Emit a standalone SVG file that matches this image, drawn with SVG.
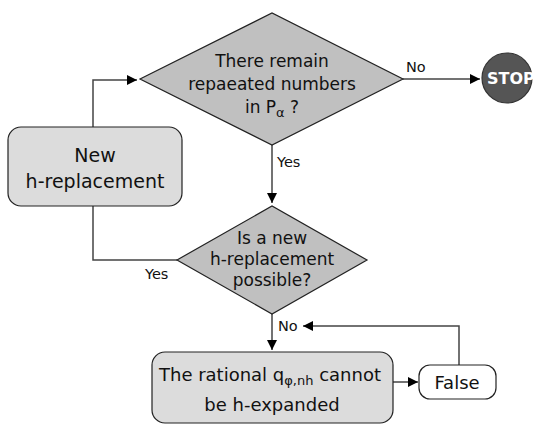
<svg xmlns="http://www.w3.org/2000/svg" width="534" height="424" viewBox="0 0 534 424">
<style>
  text { font-family: "DejaVu Sans", Verdana, sans-serif; fill: #111; }
  .dia { fill: #c0c0c0; stroke: #222; stroke-width: 1.2; }
  .box { fill: #dcdcdc; stroke: #222; stroke-width: 1.2; }
  .wbox { fill: #fff; stroke: #222; stroke-width: 1.2; }
  .conn { fill: none; stroke: #444; stroke-width: 1.5; }
  .lbl { font-size: 14.5px; }
  .t17 { font-size: 17px; text-anchor: middle; }
  .t18 { font-size: 18px; text-anchor: middle; }
  .t19 { font-size: 19px; text-anchor: middle; }
</style>
<defs>
  <marker id="arr" viewBox="0 0 10 10" refX="10" refY="5" markerWidth="10" markerHeight="10" markerUnits="userSpaceOnUse" orient="auto">
    <path d="M0,0 L10,5 L0,10 z" fill="#000"/>
  </marker>
</defs>

<g id="connectors">
  <path class="conn" d="M93,127 V80 H137" marker-end="url(#arr)"/>
  <path class="conn" d="M403,79 H480" marker-end="url(#arr)"/>
  <path class="conn" d="M272,145 V203" marker-end="url(#arr)"/>
  <path class="conn" d="M93,206 V260 H177"/>
  <path class="conn" d="M272,314 V350" marker-end="url(#arr)"/>
  <path class="conn" d="M393,382 H418" marker-end="url(#arr)"/>
  <path class="conn" d="M459,365 V326 H303" marker-end="url(#arr)"/>
  <text class="lbl" x="406" y="72">No</text>
  <text class="lbl" x="277" y="167">Yes</text>
  <text class="lbl" x="145" y="279">Yes</text>
  <text class="lbl" x="278" y="331">No</text>
</g>

<g id="decision1">
  <polygon class="dia" points="140,79 272,13 403,79 272,145"/>
  <text class="t17" x="272" y="67">There remain</text>
  <text class="t17" x="272" y="90">repaeated numbers</text>
  <text class="t17" x="272" y="113">in P<tspan font-size="13" dy="4">α</tspan><tspan dy="-4"> ?</tspan></text>
</g>

<g id="stop">
  <circle cx="507" cy="78" r="25" fill="#555" stroke="#333" stroke-width="1.2"/>
  <text x="487" y="84" font-size="16" font-weight="bold" style="fill:#fff">STOP</text>
</g>

<g id="newrep">
  <rect class="box" x="8" y="127" width="174" height="79" rx="13"/>
  <text class="t19" x="95" y="162">New</text>
  <text class="t19" x="95" y="188">h-replacement</text>
</g>

<g id="decision2">
  <polygon class="dia" points="177,260 272,206 367,260 272,314"/>
  <text class="t17" x="272" y="244">Is a new</text>
  <text class="t17" x="272" y="265">h-replacement</text>
  <text class="t17" x="272" y="286">possible?</text>
</g>

<g id="rational">
  <rect class="box" x="152" y="352" width="241" height="71" rx="13"/>
  <text class="t18" x="270" y="381">The rational q<tspan font-size="13" dy="4">φ,nh</tspan><tspan dy="-4"> cannot</tspan></text>
  <text class="t18" x="272" y="411">be h-expanded</text>
</g>

<g id="false">
  <rect class="wbox" x="419" y="365" width="77" height="34" rx="11"/>
  <text class="t18" x="457" y="389">False</text>
</g>
</svg>
